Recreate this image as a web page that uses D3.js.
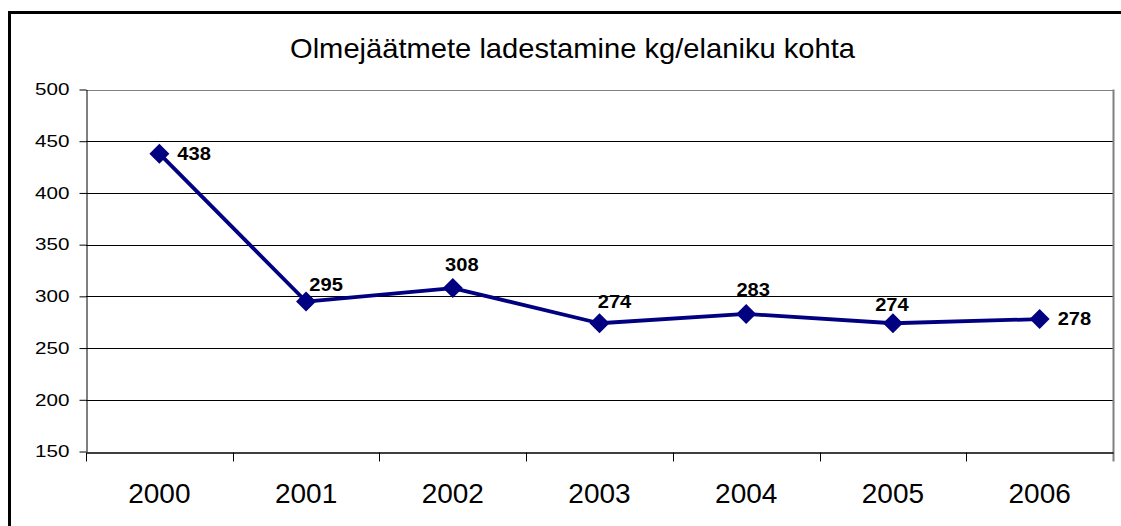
<!DOCTYPE html>
<html>
<head>
<meta charset="utf-8">
<script src="https://cdn.jsdelivr.net/npm/d3@7"></script>
<style>
  html, body { margin: 0; padding: 0; background: #fff; }
  svg { display: block; font-family: Arial, "Liberation Sans", sans-serif; }
</style>
</head>
<body>
<svg id="chart" width="1121" height="526"></svg>
<script>
// Landfilled municipal waste per inhabitant
const years = ["2000", "2001", "2002", "2003", "2004", "2005", "2006"];
const values = [438, 295, 308, 274, 283, 274, 278];
const yTicks = [150, 200, 250, 300, 350, 400, 450, 500];
const chartTitle = "Olmejäätmete ladestamine kg/elaniku kohta";

// where each value label sits relative to its marker
const labelPlacement = [
  { dx: 18, dy: 0, anchor: "start" },
  { dx: 20, dy: -17, anchor: "middle" },
  { dx: 9, dy: -23, anchor: "middle" },
  { dx: 15, dy: -22, anchor: "middle" },
  { dx: 7, dy: -24, anchor: "middle" },
  { dx: -1, dy: -19, anchor: "middle" },
  { dx: 18, dy: 0, anchor: "start" }
];

const FONT = "Arial, 'Liberation Sans', sans-serif";
const svg = d3.select("#chart");
const W = 1121, H = 526;
const plot = { left: 86, right: 1113, top: 89.5, bottom: 451.5 };

// outer frame (continues past the right edge)
svg.append("path")
  .attr("d", `M9.5,${H + 2} V12.5 H${W + 2}`)
  .attr("fill", "none")
  .attr("stroke", "#000")
  .attr("stroke-width", 3);

svg.append("text")
  .attr("x", 290).attr("y", 58)
  .attr("font-size", 28.5)
  .attr("textLength", 565)
  .attr("lengthAdjust", "spacingAndGlyphs")
  .attr("fill", "#000")
  .text(chartTitle);

const x = d3.scaleBand().domain(years).range([plot.left, plot.right]).paddingInner(0).paddingOuter(0);
const y = d3.scaleLinear().domain([150, 500]).range([plot.bottom, plot.top]);

// horizontal gridlines
svg.append("g")
  .selectAll("line")
  .data(yTicks.filter(t => t > 150))
  .join("line")
  .attr("x1", plot.left).attr("x2", plot.right)
  .attr("y1", d => Math.round(y(d)) + 0.5).attr("y2", d => Math.round(y(d)) + 0.5)
  .attr("stroke", d => d === 500 ? "#808080" : "#000")
  .attr("stroke-width", 1);

// right border of plot area
svg.append("line")
  .attr("x1", plot.right + 0.5).attr("x2", plot.right + 0.5)
  .attr("y1", plot.top).attr("y2", plot.bottom + 10)
  .attr("stroke", "#808080").attr("stroke-width", 2);

// y axis; labels are drawn a little wide
const ySx = 1.25;
const yAxis = d3.axisLeft(y).tickValues(yTicks).tickSize(7).tickPadding(10).tickSizeOuter(0);
const gy = svg.append("g").attr("transform", `translate(${plot.left + 0.5},0)`).call(yAxis);
gy.select(".domain").attr("stroke", "#000");
gy.selectAll(".tick line").attr("stroke", "#000");
gy.selectAll(".tick text")
  .attr("font-size", 16.5).attr("fill", "#000").attr("font-family", FONT)
  .attr("x", -17 / ySx)
  .attr("transform", `scale(${ySx},1)`);

// x axis with tick marks between categories
const xAxis = d3.axisBottom(x).tickSize(0).tickPadding(31);
const gx = svg.append("g").attr("transform", `translate(0,${Math.round(plot.bottom) + 0.5})`).call(xAxis);
gx.select(".domain").attr("stroke", "#000").attr("stroke-width", 1.5);
gx.selectAll(".tick text").attr("font-size", 28).attr("fill", "#000").attr("font-family", FONT);
gx.append("g")
  .selectAll("line")
  .data(years)
  .join("line")
  .attr("x1", d => Math.round(x(d)) + 0.5).attr("x2", d => Math.round(x(d)) + 0.5)
  .attr("y1", 0).attr("y2", 9)
  .attr("stroke", "#000");

// series line
const cx = d => x(d) + x.bandwidth() / 2;
const pts = years.map((yr, i) => [cx(yr), y(values[i])]);
svg.append("path")
  .datum(pts)
  .attr("d", d3.line())
  .attr("fill", "none")
  .attr("stroke", "#000080")
  .attr("stroke-width", 3.8)
  .attr("stroke-linejoin", "round");

// diamond markers
svg.append("g")
  .selectAll("path")
  .data(pts)
  .join("path")
  .attr("d", d3.symbol().type(d3.symbolSquare).size(200))
  .attr("transform", d => `translate(${d[0]},${d[1]}) rotate(45)`)
  .attr("fill", "#000080");

// value labels, slightly widened
const vSx = 1.15;
svg.append("g")
  .selectAll("text")
  .data(values)
  .join("text")
  .attr("transform", (d, i) => `translate(${pts[i][0] + labelPlacement[i].dx},${pts[i][1] + labelPlacement[i].dy}) scale(${vSx},1)`)
  .attr("dy", "0.36em")
  .attr("text-anchor", (d, i) => labelPlacement[i].anchor)
  .attr("font-size", 17.5)
  .attr("font-weight", "bold")
  .attr("fill", "#000")
  .text(d => d);
</script>
</body>
</html>
